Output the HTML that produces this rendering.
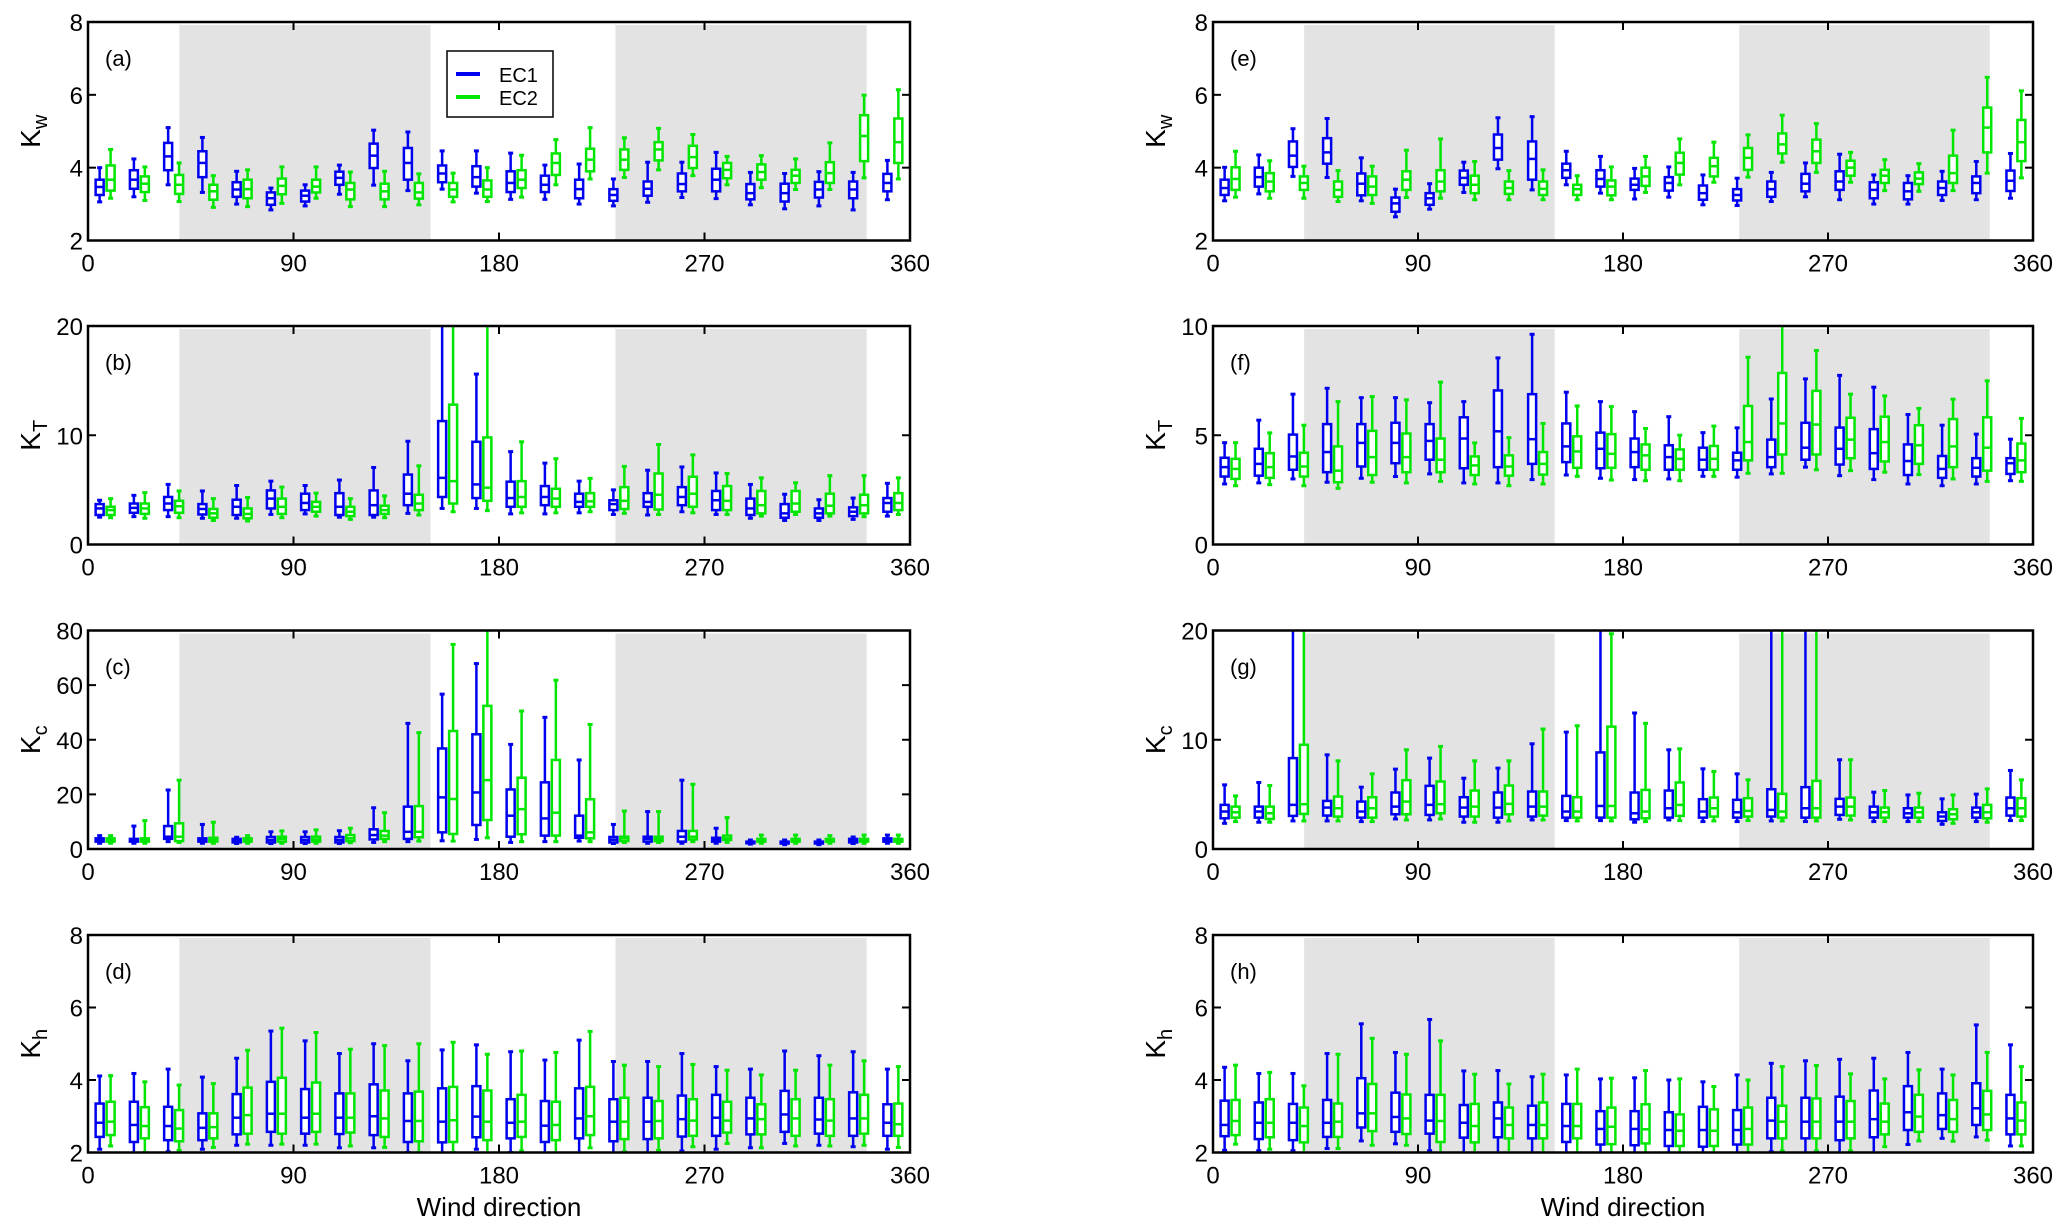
<!DOCTYPE html>
<html><head><meta charset="utf-8"><style>
html,body{margin:0;padding:0;background:#fff;}
svg{display:block;font-family:"Liberation Sans",Arial,sans-serif;}
</style></head><body>
<svg id="fig" width="2067" height="1231" viewBox="0 0 2067 1231" xmlns="http://www.w3.org/2000/svg"></svg>
<script>
// ---- data: bin centres (wind direction, degrees) ----
const directions = [7.5,22.5,37.5,52.5,67.5,82.5,97.5,112.5,127.5,142.5,157.5,172.5,187.5,202.5,217.5,232.5,247.5,262.5,277.5,292.5,307.5,322.5,337.5,352.5];
const xTicks = [0,90,180,270,360];
const shadedSectors = [[40,150],[231,341]];
const seriesNames = ['EC1','EC2'];
// each entry: [lower whisker, q1, median, q3, upper whisker]
const aEC1 = [[3.06,3.25,3.47,3.67,4.0],[3.2,3.42,3.67,3.93,4.24],[3.53,3.93,4.31,4.68,5.1],[3.32,3.74,4.13,4.45,4.83],[3.0,3.2,3.4,3.6,3.9],[2.84,2.98,3.16,3.32,3.44],[2.95,3.07,3.23,3.37,3.53],[3.27,3.53,3.72,3.89,4.07],[3.52,3.99,4.33,4.66,5.03],[3.37,3.67,4.13,4.54,4.98],[3.41,3.6,3.84,4.06,4.46],[3.3,3.48,3.74,4.04,4.46],[3.13,3.33,3.58,3.9,4.4],[3.13,3.33,3.53,3.78,4.07],[3.0,3.16,3.41,3.67,4.1],[2.95,3.09,3.25,3.41,3.69],[3.05,3.23,3.42,3.62,4.15],[3.18,3.35,3.55,3.84,4.15],[3.15,3.35,3.67,3.97,4.42],[2.98,3.13,3.3,3.55,3.87],[2.87,3.07,3.3,3.56,3.84],[2.95,3.18,3.4,3.61,3.89],[2.84,3.16,3.4,3.62,3.87],[3.12,3.35,3.58,3.83,4.2]];
const aEC2 = [[3.16,3.37,3.67,4.06,4.5],[3.1,3.33,3.56,3.76,4.02],[3.07,3.28,3.53,3.8,4.13],[2.91,3.12,3.35,3.53,3.78],[2.93,3.16,3.41,3.67,3.94],[3.02,3.27,3.5,3.7,4.02],[3.16,3.32,3.48,3.67,4.02],[2.93,3.13,3.4,3.58,3.88],[2.93,3.13,3.35,3.56,3.9],[2.98,3.15,3.32,3.58,3.83],[3.06,3.2,3.4,3.58,3.85],[3.07,3.2,3.4,3.65,4.0],[3.19,3.44,3.67,3.93,4.34],[3.53,3.8,4.13,4.39,4.77],[3.69,3.9,4.22,4.52,5.1],[3.73,3.94,4.22,4.5,4.82],[3.94,4.2,4.5,4.7,5.08],[3.78,3.99,4.29,4.6,4.91],[3.53,3.71,3.94,4.13,4.31],[3.45,3.67,3.88,4.09,4.33],[3.4,3.58,3.78,3.94,4.24],[3.4,3.58,3.85,4.15,4.68],[3.72,4.18,4.87,5.44,5.99],[3.69,4.13,4.7,5.35,6.14]];
const bEC1 = [[2.5,2.7,3.3,3.7,4.05],[2.55,2.9,3.35,3.75,4.5],[2.55,3.15,3.75,4.35,5.5],[2.4,2.75,3.25,3.7,4.9],[2.4,2.7,3.45,4.1,5.4],[2.75,3.3,4.2,4.95,5.8],[2.8,3.15,3.8,4.65,5.4],[2.5,2.7,3.45,4.7,5.9],[2.5,2.7,3.6,4.95,7.05],[2.85,3.6,4.65,6.4,9.45],[3.3,4.35,6.1,11.3,22],[3.3,4.25,5.5,9.4,15.6],[2.8,3.45,4.25,5.75,8.5],[2.8,3.6,4.35,5.35,7.45],[2.9,3.45,3.9,4.65,5.8],[2.75,3.15,3.7,4.05,5.0],[2.7,3.45,3.9,4.7,6.8],[3.0,3.6,4.35,5.25,7.1],[2.75,3.15,4.05,4.9,6.55],[2.4,2.7,3.3,4.2,5.5],[2.2,2.45,2.85,3.7,4.6],[2.2,2.45,2.85,3.3,4.1],[2.3,2.6,3.0,3.4,4.25],[2.6,3.0,3.8,4.25,5.6]];
const bEC2 = [[2.45,2.7,3.15,3.45,4.2],[2.4,2.8,3.3,3.75,4.75],[2.45,2.9,3.5,4.0,4.9],[2.2,2.45,2.85,3.25,4.2],[2.15,2.4,2.8,3.3,4.3],[2.45,2.8,3.45,4.2,5.25],[2.6,3.0,3.45,3.9,4.7],[2.3,2.6,3.0,3.45,4.2],[2.45,2.8,3.15,3.55,4.45],[2.7,3.15,3.75,4.55,7.2],[3.0,3.75,5.8,12.8,22],[3.1,4.0,5.2,9.8,22],[2.9,3.45,4.35,5.8,9.4],[2.9,3.45,4.2,5.1,7.85],[3.0,3.45,3.95,4.7,6.05],[2.85,3.25,4.0,5.25,7.15],[2.75,3.2,4.55,6.5,9.15],[2.9,3.45,4.65,6.2,8.2],[2.75,3.15,4.0,5.35,6.5],[2.6,2.85,3.6,4.9,6.1],[2.75,3.0,3.75,4.9,5.65],[2.6,2.85,3.55,4.65,6.3],[2.55,2.85,3.6,4.55,6.3],[2.75,3.15,3.8,4.7,6.1]];
const cEC1 = [[2.1,2.7,3.3,3.9,4.9],[2.1,2.7,3.2,3.7,8.4],[2.7,3.7,4.5,8.4,21.6],[2.1,2.7,3.2,3.9,9.0],[2.0,2.4,3.0,3.7,4.3],[2.0,2.4,3.3,4.4,6.3],[2.0,2.4,3.3,4.4,6.3],[2.0,2.4,3.3,4.4,6.7],[2.4,3.5,5.1,7.2,15.1],[2.7,3.7,6.3,15.5,46],[3.0,6.1,18.9,36.8,56.7],[3.5,8.8,20.7,42,67.9],[2.4,4.5,12.2,21.8,38.3],[2.7,4.9,11.2,24.4,48.2],[2.9,4.1,4.9,12.2,32.6],[2.0,2.4,3.4,4.4,9.0],[2.1,2.7,3.7,4.5,13.7],[2.1,2.7,4.5,6.6,25.2],[2.1,2.7,3.3,4.1,7.6],[1.8,2.1,2.4,2.7,3.3],[1.6,2.0,2.3,2.7,3.3],[1.6,2.0,2.3,2.7,3.3],[2.0,2.4,3.0,3.7,4.4],[2.1,2.7,3.3,3.9,5.1]];
const cEC2 = [[2.1,2.7,3.3,3.9,4.9],[2.1,2.7,3.3,3.9,10.4],[2.4,2.9,4.5,9.4,25.2],[2.1,2.7,3.3,4.1,9.8],[2.1,2.7,3.3,3.9,4.9],[2.1,2.7,3.7,4.5,6.6],[2.1,2.7,3.5,4.5,7.0],[2.3,2.9,3.9,5.1,7.6],[2.7,3.7,4.9,6.6,13.3],[2.9,4.3,6.3,15.7,42.6],[2.9,5.5,18.3,43.2,74.9],[4.1,10.6,25.2,52.4,84],[2.7,5.4,14.6,26.1,50.5],[2.7,4.9,13.3,32.6,61.8],[2.7,3.9,6.1,18.2,45.6],[2.4,2.9,3.9,4.5,13.9],[2.4,2.9,3.7,4.5,13.7],[2.7,3.5,4.5,6.6,23.7],[2.4,3.3,3.9,4.9,11.5],[2.1,2.7,3.0,3.7,5.1],[2.1,2.7,3.0,3.7,5.1],[2.1,2.7,3.0,3.7,4.9],[2.1,2.7,3.0,3.7,5.1],[2.1,2.7,3.0,3.7,5.1]];
const dEC1 = [[2.09,2.43,2.82,3.35,4.11],[1.97,2.29,2.76,3.4,4.18],[2.02,2.34,2.73,3.26,4.3],[2.09,2.34,2.68,3.08,4.08],[2.2,2.5,2.96,3.61,4.6],[2.2,2.57,3.07,3.95,5.35],[2.2,2.52,2.96,3.75,5.08],[2.13,2.51,2.96,3.63,4.73],[2.13,2.48,3.0,3.88,5.0],[2.0,2.29,2.87,3.63,4.53],[1.97,2.28,2.85,3.77,4.83],[2.09,2.42,2.99,3.83,4.97],[2.0,2.39,2.82,3.47,4.78],[1.97,2.29,2.74,3.42,4.55],[1.97,2.39,2.94,3.77,5.1],[1.97,2.31,2.85,3.47,4.51],[1.97,2.37,2.85,3.51,4.51],[2.04,2.44,2.92,3.57,4.73],[2.09,2.46,2.96,3.59,4.37],[2.13,2.5,2.94,3.51,4.3],[2.25,2.57,3.05,3.7,4.8],[2.2,2.52,2.91,3.51,4.67],[2.16,2.46,2.94,3.66,4.78],[2.09,2.46,2.82,3.33,4.3]];
const dEC2 = [[2.18,2.48,2.85,3.4,4.12],[2.0,2.39,2.73,3.25,3.95],[2.06,2.31,2.66,3.17,3.86],[2.14,2.39,2.7,3.08,3.9],[2.23,2.52,3.03,3.79,4.82],[2.23,2.52,3.07,4.06,5.43],[2.23,2.57,3.07,3.93,5.31],[2.18,2.55,2.96,3.63,4.85],[2.14,2.43,2.94,3.71,4.95],[2.0,2.31,2.87,3.68,5.0],[2.0,2.29,2.89,3.81,5.04],[1.97,2.34,2.85,3.71,4.71],[2.04,2.43,2.85,3.59,4.8],[1.97,2.34,2.76,3.4,4.76],[2.13,2.48,3.0,3.81,5.34],[2.02,2.37,2.85,3.51,4.41],[2.06,2.39,2.87,3.42,4.37],[2.16,2.46,2.88,3.47,4.43],[2.25,2.55,2.88,3.4,4.27],[2.13,2.5,2.92,3.33,4.14],[2.18,2.46,2.94,3.47,4.27],[2.18,2.46,2.88,3.47,4.41],[2.2,2.52,2.94,3.59,4.53],[2.14,2.46,2.78,3.35,4.37]];
const eEC1 = [[3.09,3.25,3.44,3.67,4.01],[3.28,3.48,3.74,4.0,4.35],[3.76,4.02,4.33,4.72,5.07],[3.73,4.11,4.42,4.81,5.35],[3.09,3.24,3.56,3.84,4.27],[2.65,2.79,3.02,3.18,3.41],[2.86,2.98,3.16,3.3,3.56],[3.32,3.53,3.72,3.92,4.15],[3.97,4.22,4.54,4.91,5.37],[3.39,3.67,4.24,4.72,5.4],[3.53,3.72,3.93,4.11,4.45],[3.3,3.48,3.69,3.93,4.31],[3.14,3.39,3.53,3.7,3.98],[3.19,3.37,3.58,3.74,4.02],[2.98,3.12,3.3,3.51,3.8],[2.96,3.1,3.25,3.41,3.71],[3.07,3.2,3.41,3.62,3.87],[3.2,3.35,3.56,3.83,4.13],[3.12,3.39,3.62,3.9,4.37],[3.0,3.16,3.39,3.6,3.8],[3.0,3.13,3.35,3.58,3.78],[3.1,3.25,3.44,3.62,3.9],[3.12,3.3,3.58,3.76,4.17],[3.16,3.36,3.64,3.92,4.39]];
const eEC2 = [[3.19,3.39,3.69,4.01,4.45],[3.16,3.35,3.62,3.85,4.19],[3.16,3.39,3.58,3.76,4.04],[3.07,3.2,3.39,3.62,3.92],[3.02,3.25,3.48,3.76,4.04],[3.18,3.39,3.67,3.9,4.48],[3.16,3.35,3.62,3.93,4.79],[3.12,3.3,3.53,3.78,4.17],[3.12,3.28,3.44,3.62,3.92],[3.12,3.25,3.42,3.62,3.94],[3.12,3.25,3.41,3.53,3.78],[3.12,3.24,3.48,3.65,4.02],[3.32,3.5,3.76,4.0,4.31],[3.53,3.81,4.13,4.41,4.79],[3.6,3.76,4.04,4.27,4.7],[3.74,3.94,4.27,4.54,4.9],[4.15,4.39,4.64,4.94,5.44],[3.87,4.13,4.45,4.77,5.21],[3.6,3.78,4.0,4.19,4.42],[3.37,3.58,3.78,3.94,4.22],[3.35,3.55,3.7,3.87,4.11],[3.37,3.58,3.85,4.33,5.03],[3.85,4.42,5.1,5.65,6.48],[3.72,4.18,4.7,5.31,6.11]];
const fEC1 = [[2.77,3.11,3.54,3.97,4.66],[2.82,3.15,3.69,4.38,5.69],[3.0,3.42,4.03,5.03,6.88],[2.85,3.31,4.23,5.51,7.15],[3.03,3.57,4.65,5.51,6.72],[3.11,3.72,4.65,5.57,6.72],[3.23,3.88,4.74,5.51,6.49],[2.82,3.49,4.85,5.82,6.54],[2.82,3.54,5.18,7.05,8.54],[2.97,3.69,4.82,6.88,9.62],[3.18,3.77,4.49,5.54,6.97],[3.03,3.49,4.38,5.12,6.54],[2.97,3.54,4.23,4.85,6.08],[3.0,3.42,4.0,4.54,5.85],[3.12,3.42,3.88,4.43,5.12],[3.08,3.42,3.85,4.2,5.34],[3.23,3.54,4.0,4.8,6.66],[3.54,3.88,4.43,5.57,7.58],[3.15,3.66,4.38,5.35,7.74],[2.97,3.46,4.18,5.28,7.2],[2.77,3.18,3.82,4.58,5.95],[2.69,3.05,3.46,4.05,5.46],[2.77,3.11,3.51,3.95,5.05],[2.92,3.23,3.72,3.95,4.82]];
const fEC2 = [[2.69,3.0,3.46,3.92,4.66],[2.74,3.05,3.54,4.18,5.11],[2.69,3.11,3.57,4.2,5.46],[2.57,2.85,3.38,4.49,6.54],[2.85,3.18,4.0,5.2,6.77],[2.82,3.31,4.0,5.08,6.62],[2.89,3.31,3.88,4.85,7.43],[2.77,3.18,3.62,4.03,4.65],[2.69,3.15,3.57,4.08,4.89],[2.77,3.2,3.69,4.23,5.54],[3.12,3.51,4.26,4.95,6.34],[2.95,3.51,4.15,5.05,6.31],[2.92,3.42,4.08,4.58,5.31],[2.92,3.42,3.92,4.35,5.0],[3.12,3.42,3.92,4.51,5.42],[3.26,3.85,4.69,6.34,8.57],[3.26,4.12,5.54,7.85,10.6],[3.42,4.12,5.49,7.03,8.88],[3.38,3.95,4.8,5.8,6.88],[3.31,3.8,4.69,5.85,6.8],[3.2,3.69,4.54,5.46,6.23],[3.0,3.54,4.49,5.74,6.65],[2.89,3.38,4.43,5.82,7.49],[2.89,3.31,3.85,4.62,5.77]];
const gEC1 = [[2.35,2.81,3.43,4.04,5.87],[2.45,2.87,3.43,3.88,6.09],[2.57,3.03,4.04,8.32,25],[2.57,3.06,3.79,4.4,8.62],[2.51,2.87,3.43,4.34,5.66],[2.75,3.18,3.88,5.17,7.31],[2.66,3.12,4.04,5.78,8.32],[2.45,2.97,3.79,4.74,6.48],[2.45,2.87,3.79,5.17,7.4],[2.66,2.97,3.88,5.26,9.63],[2.6,2.87,3.43,4.86,10.7],[2.6,2.87,3.94,8.84,25],[2.45,2.72,3.27,5.17,12.45],[2.66,2.87,3.73,5.35,9.08],[2.51,2.87,3.43,4.56,7.34],[2.51,2.87,3.36,4.5,6.88],[2.57,2.97,3.58,5.47,30],[2.51,2.87,3.73,5.66,30],[2.72,3.12,3.88,4.59,8.17],[2.51,2.87,3.36,3.88,5.2],[2.51,2.87,3.27,3.73,4.95],[2.26,2.57,2.97,3.36,4.59],[2.51,2.87,3.36,3.79,5.02],[2.6,3.06,3.73,4.71,7.19]];
const gEC2 = [[2.51,2.87,3.36,3.88,4.86],[2.45,2.75,3.27,3.88,5.81],[2.57,3.21,4.1,9.54,25],[2.57,2.97,3.73,4.8,8.07],[2.51,2.87,3.73,4.74,6.88],[2.66,3.18,4.34,6.3,9.08],[2.75,3.27,4.1,6.18,9.39],[2.45,2.97,3.88,5.35,8.07],[2.57,3.18,4.13,5.81,8.07],[2.66,3.06,3.88,5.26,10.98],[2.57,2.87,3.43,4.74,11.28],[2.57,2.87,3.94,11.2,19.7],[2.51,2.81,3.43,5.41,11.5],[2.6,3.03,4.04,6.09,9.17],[2.57,2.97,3.73,4.71,7.09],[2.6,2.97,3.49,4.65,6.33],[2.57,2.87,3.43,5.05,30],[2.57,2.87,3.73,6.24,30],[2.66,3.06,3.88,4.71,8.17],[2.51,2.87,3.36,3.79,5.35],[2.51,2.87,3.36,3.79,5.11],[2.35,2.72,3.18,3.64,4.95],[2.45,2.81,3.36,4.04,5.5],[2.6,2.97,3.73,4.65,6.33]];
const hEC1 = [[2.06,2.45,2.76,3.43,4.35],[2.05,2.37,2.82,3.38,4.18],[2.05,2.34,2.82,3.34,4.18],[2.11,2.43,2.82,3.45,4.73],[2.32,2.69,3.08,4.05,5.55],[2.24,2.57,2.98,3.65,4.76],[2.05,2.52,2.88,3.59,5.67],[1.97,2.41,2.82,3.31,4.25],[1.97,2.42,2.94,3.38,4.26],[1.97,2.39,2.76,3.29,4.09],[1.97,2.29,2.73,3.34,4.14],[1.97,2.22,2.65,3.14,4.03],[1.97,2.2,2.65,3.14,4.06],[1.97,2.18,2.62,3.11,4.0],[1.97,2.16,2.62,3.26,3.95],[1.97,2.22,2.62,3.17,4.14],[2.02,2.39,2.88,3.51,4.46],[1.97,2.39,2.85,3.51,4.53],[1.97,2.34,2.85,3.54,4.57],[1.97,2.42,2.92,3.71,4.6],[2.22,2.62,3.11,3.83,4.76],[2.39,2.65,3.03,3.63,4.3],[2.43,2.76,3.22,3.91,5.52],[2.18,2.5,2.94,3.59,4.97]];
const hEC2 = [[2.23,2.48,2.87,3.45,4.41],[2.09,2.42,2.82,3.47,4.21],[1.97,2.28,2.73,3.24,3.84],[2.11,2.43,2.85,3.35,4.71],[2.2,2.59,3.08,3.89,5.15],[2.2,2.51,2.94,3.6,4.71],[1.97,2.29,2.87,3.59,5.08],[1.97,2.28,2.73,3.34,4.16],[1.97,2.39,2.76,3.24,3.89],[1.97,2.39,2.76,3.38,4.16],[1.97,2.39,2.73,3.34,4.3],[1.97,2.23,2.71,3.24,4.05],[1.97,2.25,2.64,3.33,4.26],[1.97,2.18,2.6,3.05,4.03],[1.97,2.18,2.6,3.19,3.82],[1.97,2.22,2.65,3.24,4.0],[2.04,2.39,2.85,3.29,4.37],[2.04,2.39,2.85,3.49,4.4],[2.04,2.39,2.85,3.42,4.17],[2.16,2.5,2.85,3.35,4.03],[2.32,2.57,2.99,3.59,4.28],[2.31,2.57,2.92,3.45,4.14],[2.34,2.62,3.05,3.7,4.76],[2.18,2.5,2.88,3.38,4.37]];

const SVGNS = 'http://www.w3.org/2000/svg';
const svg = document.getElementById('fig');
function mk(tag, attrs, parent){
  const e = document.createElementNS(SVGNS, tag);
  for (const k in attrs) e.setAttribute(k, attrs[k]);
  (parent||svg).appendChild(e);
  return e;
}
const colX = [[88,910],[1213,2033]];
const rowY = [[22,240.5],[326,544.5],[630.5,849],[935,1152.5]];
const panels = [
 {id:'a',col:0,row:0,ymin:2,ymax:8,yt:[2,4,6,8],sub:'w',s1:aEC1,s2:aEC2},
 {id:'b',col:0,row:1,ymin:0,ymax:20,yt:[0,10,20],sub:'T',s1:bEC1,s2:bEC2},
 {id:'c',col:0,row:2,ymin:0,ymax:80,yt:[0,20,40,60,80],sub:'c',s1:cEC1,s2:cEC2},
 {id:'d',col:0,row:3,ymin:2,ymax:8,yt:[2,4,6,8],sub:'h',s1:dEC1,s2:dEC2},
 {id:'e',col:1,row:0,ymin:2,ymax:8,yt:[2,4,6,8],sub:'w',s1:eEC1,s2:eEC2},
 {id:'f',col:1,row:1,ymin:0,ymax:10,yt:[0,5,10],sub:'T',s1:fEC1,s2:fEC2},
 {id:'g',col:1,row:2,ymin:0,ymax:20,yt:[0,10,20],sub:'c',s1:gEC1,s2:gEC2},
 {id:'h',col:1,row:3,ymin:2,ymax:8,yt:[2,4,6,8],sub:'h',s1:hEC1,s2:hEC2}
];
const colors = ['#0000f0','#00e600'];
const offsets = [-2.4, 2.4];
const BW = 8;

panels.forEach(p=>{
  const [x0,x1] = colX[p.col], [y0,y1] = rowY[p.row];
  const xs = d => x0 + (d/360)*(x1-x0);
  const ys = v => y1 - (v-p.ymin)/(p.ymax-p.ymin)*(y1-y0);
  const g = mk('g',{});
  
  
  const cp = mk('clipPath',{id:'clip-'+p.id}, g);
  mk('rect',{x:x0,y:y0,width:x1-x0,height:y1-y0}, cp);
  // shaded sectors
  shadedSectors.forEach((s,i)=>{
    const r = mk('rect',{x:xs(s[0]),y:y0+3,width:xs(s[1])-xs(s[0]),height:y1-y0-3,fill:'#e3e3e3'}, g);
    
    
  });
  // boxes
  const marks = mk('g',{'clip-path':'url(#clip-'+p.id+')'}, g);
  [p.s1,p.s2].forEach((ser,si)=>{
    const col = colors[si];
    ser.forEach((st,i)=>{
      const cx = xs(directions[i]+offsets[si]);
      const bg = mk('g',{stroke:col,fill:'none'}, marks);
      
      
      const [lo,q1,md,q3,hi] = st.map(ys);
      mk('line',{x1:cx,x2:cx,y1:hi,y2:q3,'stroke-width':2.5}, bg);
      mk('line',{x1:cx,x2:cx,y1:q1,y2:lo,'stroke-width':2.5}, bg);
      mk('line',{x1:cx-2.5,x2:cx+2.5,y1:hi,y2:hi,'stroke-width':3}, bg);
      mk('line',{x1:cx-2.5,x2:cx+2.5,y1:lo,y2:lo,'stroke-width':3}, bg);
      mk('rect',{x:cx-BW/2,y:q3,width:BW,height:Math.max(q1-q3,1),fill:'#fff','stroke-width':2.5}, bg);
      mk('line',{x1:cx-BW/2,x2:cx+BW/2,y1:md,y2:md,'stroke-width':2.5}, bg);
    });
  });
  // frame
  const fr = mk('rect',{x:x0,y:y0,width:x1-x0,height:y1-y0,fill:'none',stroke:'#000','stroke-width':2.5}, g);
  
  
  // x ticks
  xTicks.forEach(t=>{
    const x = xs(t);
    mk('line',{x1:x,x2:x,y1:y1,y2:y1-8,stroke:'#000','stroke-width':2}, g);
    mk('line',{x1:x,x2:x,y1:y0,y2:y0+8,stroke:'#000','stroke-width':2}, g);
    const tx = mk('text',{x:x,y:y1+31,'font-size':24,'text-anchor':'middle',fill:'#000'}, g);
    tx.textContent = t;
    
    
  });
  p.yt.forEach(t=>{
    const y = ys(t);
    mk('line',{x1:x0,x2:x0+8,y1:y,y2:y,stroke:'#000','stroke-width':2}, g);
    mk('line',{x1:x1,x2:x1-8,y1:y,y2:y,stroke:'#000','stroke-width':2}, g);
    const ty = mk('text',{x:x0-5,y:y+9,'font-size':24,'text-anchor':'end',fill:'#000'}, g);
    ty.textContent = t;
    
    
  });
  // panel label
  const pl = mk('text',{x:x0+17,y:y0+44,'font-size':22,fill:'#000'}, g);
  pl.textContent = '('+p.id+')';
  
  
  // y axis title
  const cy = (y0+y1)/2, lx = x0-48;
  const yl = mk('text',{x:lx,y:cy,'font-size':28,'text-anchor':'middle',fill:'#000',transform:'rotate(-90 '+lx+' '+cy+')'}, g);
  
  
  yl.appendChild(document.createTextNode('K'));
  const sb = mk('tspan',{'font-size':20,dy:7}, yl);
  sb.textContent = p.sub;
});

// legend in panel a
const lg = mk('g',{});


mk('rect',{x:447,y:51,width:106,height:66,fill:'#fff',stroke:'#000','stroke-width':1.5}, lg);
seriesNames.forEach((n,i)=>{
  const y = 74 + i*23;
  const e = mk('g',{}, lg);
  
  
  mk('line',{x1:456,x2:480,y1:y,y2:y,stroke:colors[i],'stroke-width':4}, e);
  const t = mk('text',{x:499,y:y+8,'font-size':20,fill:'#000'}, e);
  t.textContent = n;
});

// x axis titles
[0,1].forEach(c=>{
  const t = mk('text',{x:(colX[c][0]+colX[c][1])/2,y:1216,'font-size':26,'text-anchor':'middle',fill:'#000'});
  t.textContent = 'Wind direction';
  
  
});
</script>
</body></html>
